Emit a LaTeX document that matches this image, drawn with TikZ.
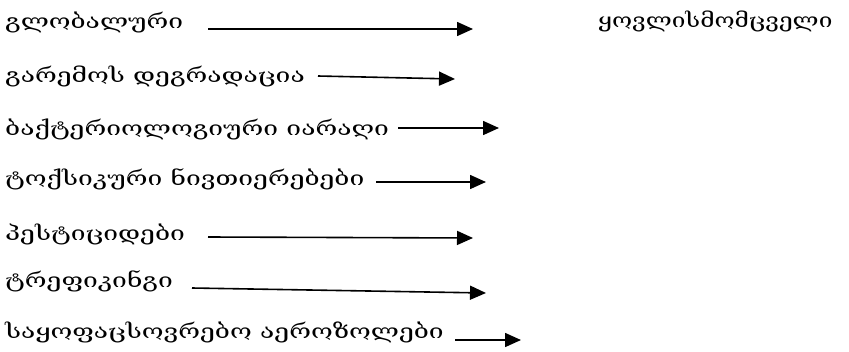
\documentclass[tikz,border=0pt]{standalone}
\usepackage{fontspec}
\setmainfont[FakeStretch=1.32]{DejaVu Serif}
\newfontfamily\rightfont[FakeStretch=1.22]{DejaVu Serif}
\usetikzlibrary{arrows.meta}
\tikzset{
  lbl/.style={anchor=base west, inner sep=0pt, font=\fontsize{20}{24}\selectfont},
  arr/.style={line width=1.6pt, -{Triangle[length=16pt,width=14pt]}}
}
\begin{document}
\begin{tikzpicture}[x=1pt,y=-1pt]
\useasboundingbox (0,0) rectangle (849,351);
\node[lbl] (t1) at (5,28) {გლობალური};
\node[lbl] (t2) at (5,82) {გარემოს დეგრადაცია};
\node[lbl] (t3) at (5,135) {ბაქტერიოლოგიური იარაღი};
\node[lbl] (t4) at (5,185) {ტოქსიკური ნივთიერებები};
\node[lbl] (t5) at (5,240) {პესტიციდები};
\node[lbl] (t6) at (5,287) {ტრეფიკინგი};
\node[lbl] (t7) at (5,338) {საყოფაცსოვრებო აეროზოლები};
\node[lbl, font=\fontsize{20}{24}\rightfont] (r1) at (598,27) {ყოვლისმომცველი};
\coordinate (a1) at (208,29); \coordinate (b1) at (473,29);
\coordinate (a2) at (318,76); \coordinate (b2) at (455,79);
\coordinate (a3) at (398,128); \coordinate (b3) at (499,128);
\coordinate (a4) at (376,182); \coordinate (b4) at (486,182);
\coordinate (a5) at (208,237); \coordinate (b5) at (473,238);
\coordinate (a6) at (192,288); \coordinate (b6) at (486,293);
\coordinate (a7) at (455,340); \coordinate (b7) at (521,340);
\foreach \i in {1,...,7} \draw[arr] (a\i) -- (b\i);
\end{tikzpicture}
\end{document}
